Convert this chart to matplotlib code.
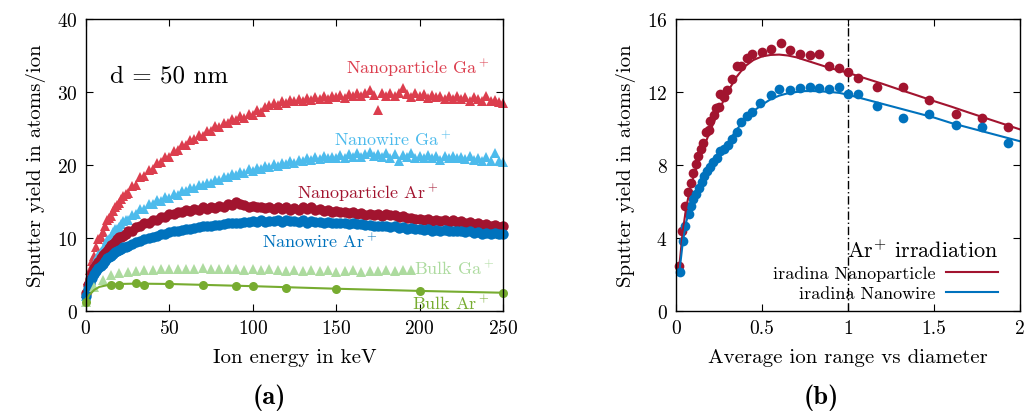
import matplotlib
matplotlib.use("Agg")
import matplotlib.pyplot as plt

plt.rcParams['font.family'] = ['cmr10', 'DejaVu Serif']
plt.rcParams['mathtext.fontset'] = 'cm'
plt.rcParams['axes.formatter.use_mathtext'] = True

# ---- panel (a): sputter yield vs ion energy, d = 50 nm ----
energy = [0, 2.5, 5, 7.5, 10, 12.5, 15, 17.5, 20, 22.5,
          25, 27.5, 30, 32.5, 35, 37.5, 40, 42.5, 45, 47.5,
          50, 52.5, 55, 57.5, 60, 62.5, 65, 67.5, 70, 72.5,
          75, 77.5, 80, 82.5, 85, 87.5, 90, 92.5, 95, 97.5,
          100, 102.5, 105, 107.5, 110, 112.5, 115, 117.5, 120, 122.5,
          125, 127.5, 130, 132.5, 135, 137.5, 140, 142.5, 145, 147.5,
          150, 152.5, 155, 157.5, 160, 162.5, 165, 167.5, 170, 172.5,
          175, 177.5, 180, 182.5, 185, 187.5, 190, 192.5, 195, 197.5,
          200, 202.5, 205, 207.5, 210, 212.5, 215, 217.5, 220, 222.5,
          225, 227.5, 230, 232.5, 235, 237.5, 240, 242.5, 245, 247.5, 250]

np_ga = [2.4, 5.6, 7.6, 9.8, 10.8, 12.4, 13.0, 14.3, 14.8, 15.8,
         16.1, 17.1, 17.3, 18.3, 18.5, 19.3, 19.5, 20.3, 20.4, 21.1,
         21.1, 21.9, 22.0, 22.7, 22.7, 23.4, 23.5, 24.1, 24.0, 24.7,
         24.6, 25.3, 25.2, 25.8, 25.7, 26.3, 26.1, 26.7, 26.5, 27.0,
         26.9, 27.5, 27.3, 27.9, 28.2, 28.5, 28.2, 28.8, 28.5, 28.9,
         28.7, 29.1, 28.8, 29.2, 28.9, 29.3, 29.0, 29.4, 29.1, 29.5,
         29.3, 29.6, 29.2, 29.7, 29.4, 29.8, 29.4, 29.9, 30.3, 29.6,
         27.6, 29.8, 29.5, 29.9, 29.4, 29.8, 30.5, 29.7, 29.3, 29.8,
         29.5, 29.7, 29.2, 29.6, 29.3, 29.5, 29.1, 29.5, 29.0, 29.4,
         29.0, 29.3, 28.8, 29.3, 29.0, 28.7, 29.4, 28.8, 28.9, 28.6, 28.5]

nw_ga = [2.0, 4.6, 6.1, 7.7, 8.5, 9.7, 10.2, 11.2, 11.5, 12.3,
         12.5, 13.2, 13.3, 14.0, 14.0, 14.6, 14.6, 15.2, 15.1, 15.6,
         15.5, 16.0, 15.9, 16.5, 16.4, 16.9, 16.8, 17.3, 17.2, 17.6,
         17.5, 18.0, 17.9, 18.4, 18.3, 18.8, 18.6, 19.1, 18.9, 19.4,
         19.2, 19.6, 19.5, 19.9, 19.7, 20.1, 19.9, 20.3, 20.1, 20.5,
         20.3, 20.7, 20.5, 20.9, 20.7, 21.1, 20.8, 21.3, 20.9, 21.1,
         21.0, 21.4, 21.0, 21.5, 21.1, 21.6, 21.1, 21.5, 21.8, 21.2,
         21.5, 21.1, 21.6, 21.0, 21.5, 20.6, 21.4, 21.1, 21.6, 21.0,
         21.3, 20.9, 21.4, 21.0, 21.3, 20.7, 21.2, 20.9, 21.3, 20.9,
         21.1, 20.8, 21.2, 20.7, 21.0, 20.6, 21.1, 20.6, 21.6, 20.5, 20.4]

np_ar = [2.5, 4.4, 5.9, 6.7, 7.7, 8.2, 9.0, 9.4, 10.1, 10.3,
         10.9, 11.0, 11.5, 11.6, 12.1, 12.1, 12.5, 12.5, 12.9, 12.9,
         13.3, 13.3, 13.6, 13.5, 13.8, 13.7, 14.0, 13.9, 14.2, 14.0,
         14.3, 14.1, 14.4, 14.2, 14.6, 14.5, 14.9, 14.6, 14.5, 14.3,
         14.4, 14.2, 14.3, 14.1, 14.3, 14.0, 14.2, 14.0, 14.2, 13.9,
         14.1, 13.9, 14.2, 14.0, 14.3, 13.9, 14.0, 13.7, 13.9, 13.6,
         13.7, 13.5, 13.6, 13.4, 13.5, 13.3, 13.4, 13.2, 13.3, 13.1,
         13.3, 13.0, 13.3, 13.1, 13.2, 12.9, 13.0, 12.8, 12.8, 12.6,
         12.6, 12.5, 12.6, 12.3, 12.5, 12.3, 12.4, 12.2, 12.5, 12.2,
         12.3, 12.0, 12.2, 11.9, 12.0, 11.8, 11.9, 11.6, 11.8, 11.5, 11.6]

nw_ar = [2.0, 3.9, 5.0, 5.9, 6.5, 7.2, 7.6, 8.1, 8.3, 8.7,
         8.9, 9.2, 9.4, 9.6, 9.8, 10.0, 10.2, 10.3, 10.5, 10.6,
         10.8, 10.9, 11.0, 11.1, 11.2, 11.3, 11.4, 11.5, 11.6, 11.6,
         11.7, 11.8, 11.8, 11.9, 12.0, 12.0, 12.1, 12.1, 12.2, 12.2,
         12.3, 12.2, 12.4, 12.2, 12.3, 12.3, 12.4, 12.2, 12.4, 12.3,
         12.3, 12.2, 12.4, 12.1, 12.3, 12.2, 12.2, 12.1, 12.2, 12.0,
         12.1, 12.0, 12.1, 11.9, 12.0, 11.9, 11.9, 11.8, 11.8, 11.7,
         11.7, 11.6, 11.7, 11.5, 11.6, 11.4, 11.5, 11.3, 11.4, 11.2,
         11.2, 11.1, 11.2, 11.0, 11.1, 11.0, 11.1, 10.9, 11.0, 10.9,
         11.0, 10.8, 10.9, 10.7, 10.8, 10.6, 10.7, 10.5, 10.7, 10.5, 10.6]

# extra low-energy runs (finer energy steps below 25 keV)
energy_low = [1.25, 3.75, 6.25, 8.75, 11.25, 13.75, 16.25, 18.75, 21.25, 23.75]
np_ga_low = [4.2, 6.8, 8.8, 10.2, 11.6, 12.8, 13.7, 14.5, 15.3, 16.0]
nw_ga_low = [3.3, 5.4, 7.0, 8.1, 9.1, 9.9, 10.8, 11.3, 11.9, 12.4]
np_ar_low = [3.5, 5.2, 6.3, 7.2, 8.0, 8.6, 9.2, 9.8, 10.2, 10.6]
nw_ar_low = [3.0, 4.5, 5.5, 6.2, 6.9, 7.4, 7.8, 8.2, 8.5, 8.8]

bulk_ga_e = [0, 5, 10, 15, 20, 25, 30, 35, 40, 45,
             50, 55, 60, 65, 70, 75, 80, 85, 90, 95,
             100, 105, 110, 115, 120, 125, 130, 135, 140, 145,
             150, 155, 160, 165, 170, 175, 180, 185, 190, 195]
bulk_ga = [1.2, 3.3, 4.3, 4.9, 5.2, 5.4, 5.5, 5.6, 5.6, 5.7,
           5.7, 5.8, 5.7, 5.8, 5.9, 5.8, 5.7, 5.8, 5.7, 5.6,
           5.7, 5.6, 5.7, 5.6, 5.5, 5.6, 5.5, 5.6, 5.5, 5.6,
           5.4, 5.5, 5.6, 5.4, 5.5, 5.5, 5.6, 5.5, 5.6, 5.6]

bulk_ar_e = [0, 15, 20, 30, 35, 50, 70, 90, 100, 120, 150, 200, 250]
bulk_ar = [1.3, 3.5, 3.6, 3.8, 3.6, 3.7, 3.6, 3.4, 3.4, 3.2, 3.0, 2.7, 2.5]
bulk_ar_fit_e = [0, 2, 5, 8, 12, 15, 20, 30, 50, 100, 150, 200, 250]
bulk_ar_fit = [1.3, 2.2, 2.9, 3.3, 3.5, 3.6, 3.7, 3.75, 3.7, 3.4, 3.05, 2.75, 2.5]

# ---- panel (b): Ar+ yield vs average ion range / diameter ----
np_range = [0.019, 0.037, 0.052, 0.072, 0.085, 0.10, 0.114, 0.13, 0.143, 0.16,
            0.175, 0.19, 0.20, 0.22, 0.234, 0.248, 0.257, 0.277, 0.298, 0.325,
            0.354, 0.38, 0.41, 0.44, 0.50, 0.55, 0.61, 0.66, 0.72, 0.78,
            0.83, 0.89, 0.95, 1.0, 1.06, 1.17, 1.32, 1.47, 1.63, 1.78, 1.93]
np_yield = [2.48, 4.4, 5.74, 6.5, 7.0, 7.55, 8.05, 8.5, 8.85, 9.2,
            9.8, 9.9, 10.4, 10.74, 11.1, 11.2, 11.9, 11.7, 12.1, 12.7,
            13.45, 13.45, 13.85, 14.1, 14.2, 14.35, 14.67, 14.3, 14.1, 14.0,
            14.1, 13.45, 13.3, 13.08, 12.77, 12.25, 12.25, 11.58, 10.8, 10.6, 10.07]

nw_range = [0.022, 0.04, 0.055, 0.073, 0.085, 0.10, 0.116, 0.134, 0.15, 0.165,
            0.183, 0.20, 0.218, 0.238, 0.254, 0.277, 0.30, 0.325, 0.354, 0.38,
            0.41, 0.44, 0.49, 0.55, 0.60, 0.66, 0.72, 0.78, 0.83, 0.89,
            0.95, 1.0, 1.06, 1.17, 1.32, 1.47, 1.63, 1.78, 1.93]
nw_yield = [2.15, 3.82, 4.68, 5.3, 5.74, 6.14, 6.4, 6.72, 7.05, 7.42,
            7.65, 7.9, 8.15, 8.37, 8.79, 8.87, 9.1, 9.42, 9.79, 10.37,
            10.7, 10.9, 11.4, 11.84, 12.16, 12.13, 12.2, 12.3, 12.2, 12.16,
            12.3, 11.9, 11.9, 11.25, 10.6, 10.82, 10.2, 10.07, 9.2]

fit_range = [0.02, 0.04, 0.06, 0.08, 0.1, 0.15, 0.2, 0.25, 0.3, 0.35,
             0.4, 0.45, 0.5, 0.55, 0.6, 0.65, 0.7, 0.75, 0.8, 0.85,
             0.9, 0.95, 1.0, 1.1, 1.2, 1.3, 1.4, 1.5, 1.6, 1.7, 1.8, 1.9, 2.0]
np_fit = [2.5, 4.4, 5.7, 6.6, 7.3, 8.7, 9.9, 11.0, 12.0, 12.8,
          13.4, 13.75, 13.95, 14.03, 14.05, 14.0, 13.9, 13.75, 13.6, 13.45,
          13.3, 13.18, 13.05, 12.75, 12.45, 12.13, 11.82, 11.5, 11.2, 10.88, 10.57, 10.26, 9.95]
nw_fit = [2.15, 3.8, 4.9, 5.6, 6.1, 7.0, 7.8, 8.5, 9.2, 9.9,
          10.5, 10.95, 11.3, 11.6, 11.8, 11.93, 12.0, 12.05, 12.05, 12.03,
          12.0, 11.95, 11.85, 11.6, 11.35, 11.1, 10.85, 10.6, 10.3, 10.05, 9.8, 9.55, 9.3]

c_np_ga = '#dc3e4e'
c_nw_ga = '#4dbbec'
c_np_ar = '#a2142f'
c_nw_ar = '#0072bd'
c_bulk_ga = '#addb9f'
c_bulk_ar = '#77ac30'

fig = plt.figure(figsize=(10.27, 4.14), dpi=100)
ax1 = fig.add_axes([0.0837, 0.2464, 0.4061, 0.7053])
ax2 = fig.add_axes([0.6582, 0.2464, 0.3350, 0.7053])

for ax in (ax1, ax2):
    ax.tick_params(direction='in', top=True, right=True, length=5, width=0.8,
                   labelsize=14, pad=6)
    for s in ax.spines.values():
        s.set_linewidth(1.0)

# panel (a)
ms_a = 7.5
for xs, ys, mk, col in [(energy, np_ga, '^', c_np_ga), (energy_low, np_ga_low, '^', c_np_ga),
                        (energy, nw_ga, '^', c_nw_ga), (energy_low, nw_ga_low, '^', c_nw_ga),
                        (energy, np_ar, 'o', c_np_ar), (energy_low, np_ar_low, 'o', c_np_ar),
                        (energy, nw_ar, 'o', c_nw_ar), (energy_low, nw_ar_low, 'o', c_nw_ar)]:
    ax1.plot(xs, ys, mk, color=col, ms=ms_a, mew=0, clip_on=False)
ax1.plot(bulk_ga_e, bulk_ga, '^', color=c_bulk_ga, ms=7, mew=0, clip_on=False)
ax1.plot(bulk_ar_fit_e, bulk_ar_fit, '-', color=c_bulk_ar, lw=1.5, clip_on=False)
ax1.plot(bulk_ar_e, bulk_ar, 'o', color=c_bulk_ar, ms=6.5, mew=0, clip_on=False)

ax1.set_xlim(0, 250)
ax1.set_ylim(0, 40)
ax1.set_xticks([0, 50, 100, 150, 200, 250])
ax1.set_yticks([0, 10, 20, 30, 40])
ax1.set_xlabel('Ion energy in keV', fontsize=15, labelpad=8)
ax1.set_ylabel('Sputter yield in atoms/ion', fontsize=15, labelpad=8)

lab = dict(fontsize=13, ha='center', va='center')
ax1.text(199, 33.4, r'Nanoparticle Ga$^+$', color=c_np_ga, **lab)
ax1.text(184, 23.6, r'Nanowire Ga$^+$', color=c_nw_ga, **lab)
ax1.text(169, 16.3, r'Nanoparticle Ar$^+$', color=c_np_ar, **lab)
ax1.text(140, 9.7, r'Nanowire Ar$^+$', color=c_nw_ar, **lab)
ax1.text(221, 6.0, r'Bulk Ga$^+$', color=c_bulk_ga, **lab)
ax1.text(219, 1.2, r'Bulk Ar$^+$', color=c_bulk_ar, **lab)
ax1.text(50, 32.2, 'd = 50 nm', fontsize=18, ha='center', va='center')

# panel (b)
ax2.axvline(1.0, color='black', lw=1.0, ls=(0, (6, 2, 1, 2)))
ax2.plot(np_range, np_yield, 'o', color=c_np_ar, ms=7, mew=0, clip_on=False)
ax2.plot(nw_range, nw_yield, 'o', color=c_nw_ar, ms=7, mew=0, clip_on=False)
l1, = ax2.plot(fit_range, np_fit, '-', color=c_np_ar, lw=1.5)
l2, = ax2.plot(fit_range, nw_fit, '-', color=c_nw_ar, lw=1.5)

ax2.set_xlim(0, 2)
ax2.set_ylim(0, 16)
ax2.set_xticks([0, 0.5, 1, 1.5, 2])
ax2.set_xticklabels(['0', '0.5', '1', '1.5', '2'])
ax2.set_yticks([0, 4, 8, 12, 16])
ax2.set_xlabel('Average ion range vs diameter', fontsize=15, labelpad=8)
ax2.set_ylabel('Sputter yield in atoms/ion', fontsize=15, labelpad=8)

leg = ax2.legend([l1, l2], ['iradina Nanoparticle', 'iradina Nanowire'],
                 title=r'Ar$^{+}$ irradiation', title_fontsize=16, fontsize=13,
                 loc='lower right', bbox_to_anchor=(0.965, 0.0),
                 frameon=False, markerfirst=False,
                 alignment='right', handlelength=2.9, borderaxespad=0.15,
                 labelspacing=0.25, handletextpad=0.55)

fig.text(0.262, 0.04, '(a)', fontsize=19, fontfamily='cmb10', ha='center', va='center')
fig.text(0.800, 0.04, '(b)', fontsize=19, fontfamily='cmb10', ha='center', va='center')

fig.savefig('out.png', dpi=100)
